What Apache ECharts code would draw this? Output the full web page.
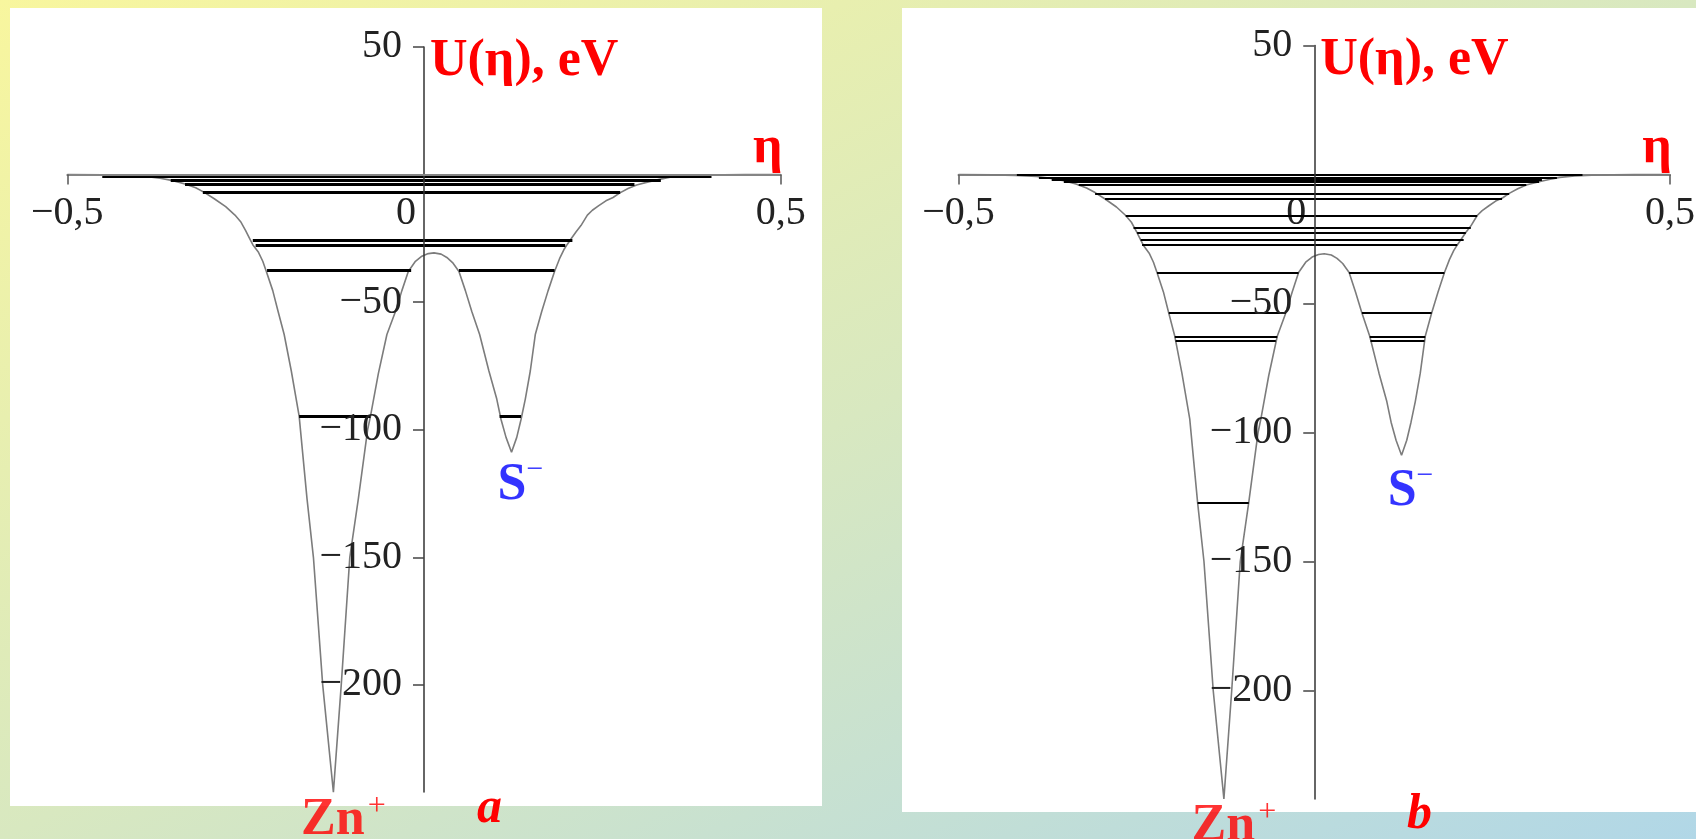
<!DOCTYPE html>
<html>
<head>
<meta charset="utf-8">
<script src="https://cdn.jsdelivr.net/npm/echarts@6/dist/echarts.min.js"></script>
<style>
  html, body { margin: 0; padding: 0; width: 1696px; height: 839px; overflow: hidden; }
  body { background: linear-gradient(to bottom right, #f8f69e 0%, #d8e8c0 50%, #b1d7e7 100%); }
  .panel { position: absolute; background: #ffffff; }
  #chart { position: absolute; left: 0; top: 0; width: 1696px; height: 839px; }
</style>
</head>
<body>
<div class="panel" style="left:10px;top:8px;width:812px;height:798px"></div>
<div class="panel" style="left:902px;top:8px;width:794px;height:804px"></div>
<div id="chart"></div>
<script>
// Double-well potential U(η) of the Zn+ – S- pair, eV: [η, U]
const potentialCurve = [
  [-0.5, 0], [-0.45, -0.15], [-0.42, -0.35], [-0.39, -0.8], [-0.37, -1.5], [-0.352, -2.4],
  [-0.335, -3.7], [-0.32, -5.2], [-0.308, -7.0], [-0.294, -9.5], [-0.278, -12.6], [-0.265, -15.9],
  [-0.257, -18.5], [-0.25, -22], [-0.244, -25.3], [-0.24, -27.5], [-0.232, -30.5], [-0.226, -34],
  [-0.221, -38], [-0.212, -45.5], [-0.2045, -53.7], [-0.196, -62.7], [-0.186, -77], [-0.175, -94.7],
  [-0.164, -127], [-0.155, -150], [-0.142, -200], [-0.127, -242],
  [-0.116, -200], [-0.104, -150], [-0.092, -127], [-0.079, -100], [-0.075, -94.7], [-0.064, -78],
  [-0.052, -62.7], [-0.04, -53.7], [-0.031, -45.5], [-0.022, -38], [-0.012, -34], [-0.003, -32],
  [0.006, -31], [0.014, -30.7], [0.024, -31.2], [0.032, -32.5], [0.04, -34.5], [0.049, -38],
  [0.058, -45.5], [0.067, -53.7], [0.078, -62.7], [0.091, -77], [0.102, -88], [0.108, -96],
  [0.115, -103], [0.1227, -108.8], [0.13, -103], [0.136, -96], [0.142, -88], [0.149, -77],
  [0.156, -62.7], [0.165, -53.7], [0.174, -45.5], [0.183, -38], [0.19, -33], [0.196, -29.5],
  [0.201, -27.3], [0.206, -25.3], [0.213, -22.5], [0.22, -20], [0.229, -15.9], [0.236, -14],
  [0.245, -12.2], [0.255, -10.3], [0.265, -9.0], [0.274, -7.3], [0.286, -5.5], [0.298, -4.1],
  [0.316, -2.8], [0.33, -1.9], [0.345, -1.1], [0.366, -0.6], [0.39, -0.3], [0.42, -0.1],
  [0.45, -0.03], [0.5, 0]
];

// Energy levels, panel a: [U, η left, η right]
const levelsA = [
  [-0.5, -0.451, 0.403],
  [-2.3, -0.355, 0.332],
  [-3.9, -0.335, 0.295],
  [-6.9, -0.31, 0.275],
  [-25.7, -0.24, 0.208],
  [-27.6, -0.236, 0.198],
  [-37.5, -0.22, -0.018], [-37.5, 0.049, 0.183],
  [-94.7, -0.175, -0.075], [-94.7, 0.106, 0.136]
];

// Energy levels, panel b: [U, η left, η right]
const levelsB = [
  [-0.2, -0.418, 0.377],
  [-1.1, -0.387, 0.341],
  [-1.9, -0.369, 0.320],
  [-2.8, -0.352, 0.316],
  [-4.1, -0.331, 0.298],
  [-7.3, -0.308, 0.274],
  [-9.5, -0.294, 0.264],
  [-15.9, -0.265, 0.229],
  [-20.6, -0.254, 0.220],
  [-22.5, -0.249, 0.213],
  [-25.3, -0.244, 0.210],
  [-27.3, -0.242, 0.201],
  [-38.0, -0.221, -0.022], [-38.0, 0.049, 0.183],
  [-53.7, -0.2045, -0.040], [-53.7, 0.067, 0.165],
  [-62.7, -0.196, -0.052], [-62.7, 0.078, 0.156],
  [-64.3, -0.195, -0.054], [-64.3, 0.079, 0.155],
  [-127.1, -0.164, -0.092]
];

const xRange = [-0.5, 0.5];
const yRange = [-242, 50];
const xTicks = [-0.5, 0, 0.5];
const xTickMarks = [-0.5, 0.5];
const yTicks = [50, -50, -100, -150, -200];
const panelLetters = ['a', 'b'];

const SERIF = "'Liberation Serif', 'Times New Roman', serif";
const RED = '#ff0000';
const BLUE = '#0000ff';
const TICK_TEXT = '#222';

// bottom of each well, taken from the curve itself
function wellBottom(side) {
  const pts = potentialCurve.filter(p => (side < 0 ? p[0] < 0 : p[0] > 0));
  return pts.reduce((m, p) => (p[1] < m[1] ? p : m));
}
const znBottom = wellBottom(-1);
const sBottom = wellBottom(1);

const fmtNum = v => String(v).replace('.', ',').replace('-', '\u2212');

// plot rectangles of the two panels
const panels = [
  { rect: { left: 67.3, top: 46.9, width: 713.4, height: 745.2 }, levels: levelsA, levelWidth: 3,
    etaAxisZ: 5, znGap: -2, sGap: 3, letter: { left: 477, top: 784 } },
  { rect: { left: 958.5, top: 45.5, width: 711.5, height: 753.4 }, levels: levelsB, levelWidth: 2,
    etaAxisZ: 1, znGap: -2, sGap: 6, letter: { left: 1407, top: 790 } }
];

const grids = [], xAxes = [], yAxes = [], series = [], graphics = [];

panels.forEach((p, k) => {
  const r = p.rect;
  const base = grids.length;
  const iPlot = base, iY = base + 1, iX = base + 2;
  // fraction of the width left of η = 0, fraction of the height above U = 0
  const fx = (0 - xRange[0]) / (xRange[1] - xRange[0]);
  const fy = (yRange[1] - 0) / (yRange[1] - yRange[0]);

  // plot area holding the marks
  grids.push({ left: r.left, top: r.top, width: r.width, height: r.height,
    outerBoundsMode: 'none', containLabel: false });
  // the vertical U axis running through η = 0
  grids.push({ left: r.left + r.width * fx, top: r.top, width: r.width * (1 - fx), height: r.height,
    outerBoundsMode: 'none', containLabel: false });
  // the horizontal η axis running through U = 0
  grids.push({ left: r.left, top: r.top, width: r.width, height: r.height * fy,
    outerBoundsMode: 'none', containLabel: false });

  xAxes.push({ type: 'value', gridIndex: iPlot, min: xRange[0], max: xRange[1], show: false });
  yAxes.push({ type: 'value', gridIndex: iPlot, min: yRange[0], max: yRange[1], show: false });

  xAxes.push({ type: 'value', gridIndex: iY, min: 0, max: xRange[1], show: false });
  yAxes.push({
    type: 'value', gridIndex: iY, min: yRange[0], max: yRange[1], position: 'left', z: 5,
    name: 'U(\u03b7), eV', nameLocation: 'end', nameGap: -15,
    nameTextStyle: {
      color: RED, fontFamily: SERIF, fontWeight: 'bold', fontSize: 52,
      align: 'left', verticalAlign: 'middle', padding: [0, 0, 0, 6]
    },
    axisLine: { onZero: false, lineStyle: { color: '#333', width: 1.5 } },
    axisTick: { show: true, customValues: yTicks, length: 11, lineStyle: { color: '#444', width: 1.5 } },
    axisLabel: {
      customValues: yTicks, margin: 22, color: TICK_TEXT, fontFamily: SERIF, fontSize: 40,
      padding: [6, 0, 0, 0],
      formatter: v => fmtNum(v)
    },
    splitLine: { show: false }
  });

  xAxes.push({
    type: 'value', gridIndex: iX, min: xRange[0], max: xRange[1], position: 'bottom', z: p.etaAxisZ,
    name: '\u03b7', nameLocation: 'end', nameGap: -13,
    nameTextStyle: {
      color: RED, fontFamily: SERIF, fontWeight: 'bold', fontSize: 52, lineHeight: 52,
      align: 'center', verticalAlign: 'bottom', padding: [0, 0, 0, 0]
    },
    axisLine: { onZero: false, lineStyle: { color: '#858585', width: 2 } },
    axisTick: { show: true, customValues: xTickMarks, length: 10, lineStyle: { color: '#555', width: 1.5 } },
    axisLabel: {
      customValues: xTicks, margin: 19, color: TICK_TEXT, fontFamily: SERIF, fontSize: 40,
      formatter: v => (v === 0 ? '{z|0}' : fmtNum(v)),
      rich: { z: { color: TICK_TEXT, fontFamily: SERIF, fontSize: 40, padding: [0, 36, 0, 0] } }
    },
    splitLine: { show: false }
  });
  yAxes.push({ type: 'value', gridIndex: iX, min: 0, max: yRange[1], show: false });

  // potential curve
  series.push({
    type: 'line', xAxisIndex: iPlot, yAxisIndex: iPlot, data: potentialCurve,
    showSymbol: false, smooth: false, z: 2, silent: true,
    lineStyle: { color: '#7c7c7c', width: 1.6 }
  });

  // energy levels between the turning points
  series.push({
    type: 'lines', coordinateSystem: 'cartesian2d', xAxisIndex: iPlot, yAxisIndex: iPlot,
    polyline: false, z: 3, silent: true,
    lineStyle: { color: '#000', width: p.levelWidth, opacity: 1, curveness: 0 },
    data: p.levels.map(([u, l, rr]) => ({ coords: [[l, u], [rr, u]] }))
  });

  // ion names under the well bottoms (charge as a raised token)
  series.push({
    type: 'scatter', xAxisIndex: iPlot, yAxisIndex: iPlot, symbolSize: 0, z: 6, silent: true,
    data: [
      {
        value: znBottom,
        label: {
          show: true, position: 'bottom', distance: p.znGap, offset: [10, 0],
          formatter: '{m|Zn}{s|+}',
          rich: {
            m: { color: RED, fontFamily: SERIF, fontWeight: 'bold', fontSize: 52, lineHeight: 60 },
            s: { color: RED, fontFamily: SERIF, fontSize: 32, lineHeight: 14, verticalAlign: 'top',
                 padding: [0, 0, 0, 3] }
          }
        }
      },
      {
        value: sBottom,
        label: {
          show: true, position: 'bottom', distance: p.sGap, offset: [9, 0],
          formatter: '{m|S}{s|\u2212}',
          rich: {
            m: { color: BLUE, fontFamily: SERIF, fontWeight: 'bold', fontSize: 52, lineHeight: 60 },
            s: { color: BLUE, fontFamily: SERIF, fontSize: 30, lineHeight: 14, verticalAlign: 'top' }
          }
        }
      }
    ]
  });

  // panel letter
  graphics.push({
    type: 'text', left: p.letter.left, top: p.letter.top, silent: true,
    style: { text: panelLetters[k], fill: RED, font: "italic bold 50px 'Liberation Serif'" }
  });
});

const chart = echarts.init(document.getElementById('chart'), null, { renderer: 'canvas' });
chart.setOption({
  animation: false,
  backgroundColor: 'transparent',
  grid: grids,
  xAxis: xAxes,
  yAxis: yAxes,
  series: series,
  graphic: graphics
});
</script>
</body>
</html>
